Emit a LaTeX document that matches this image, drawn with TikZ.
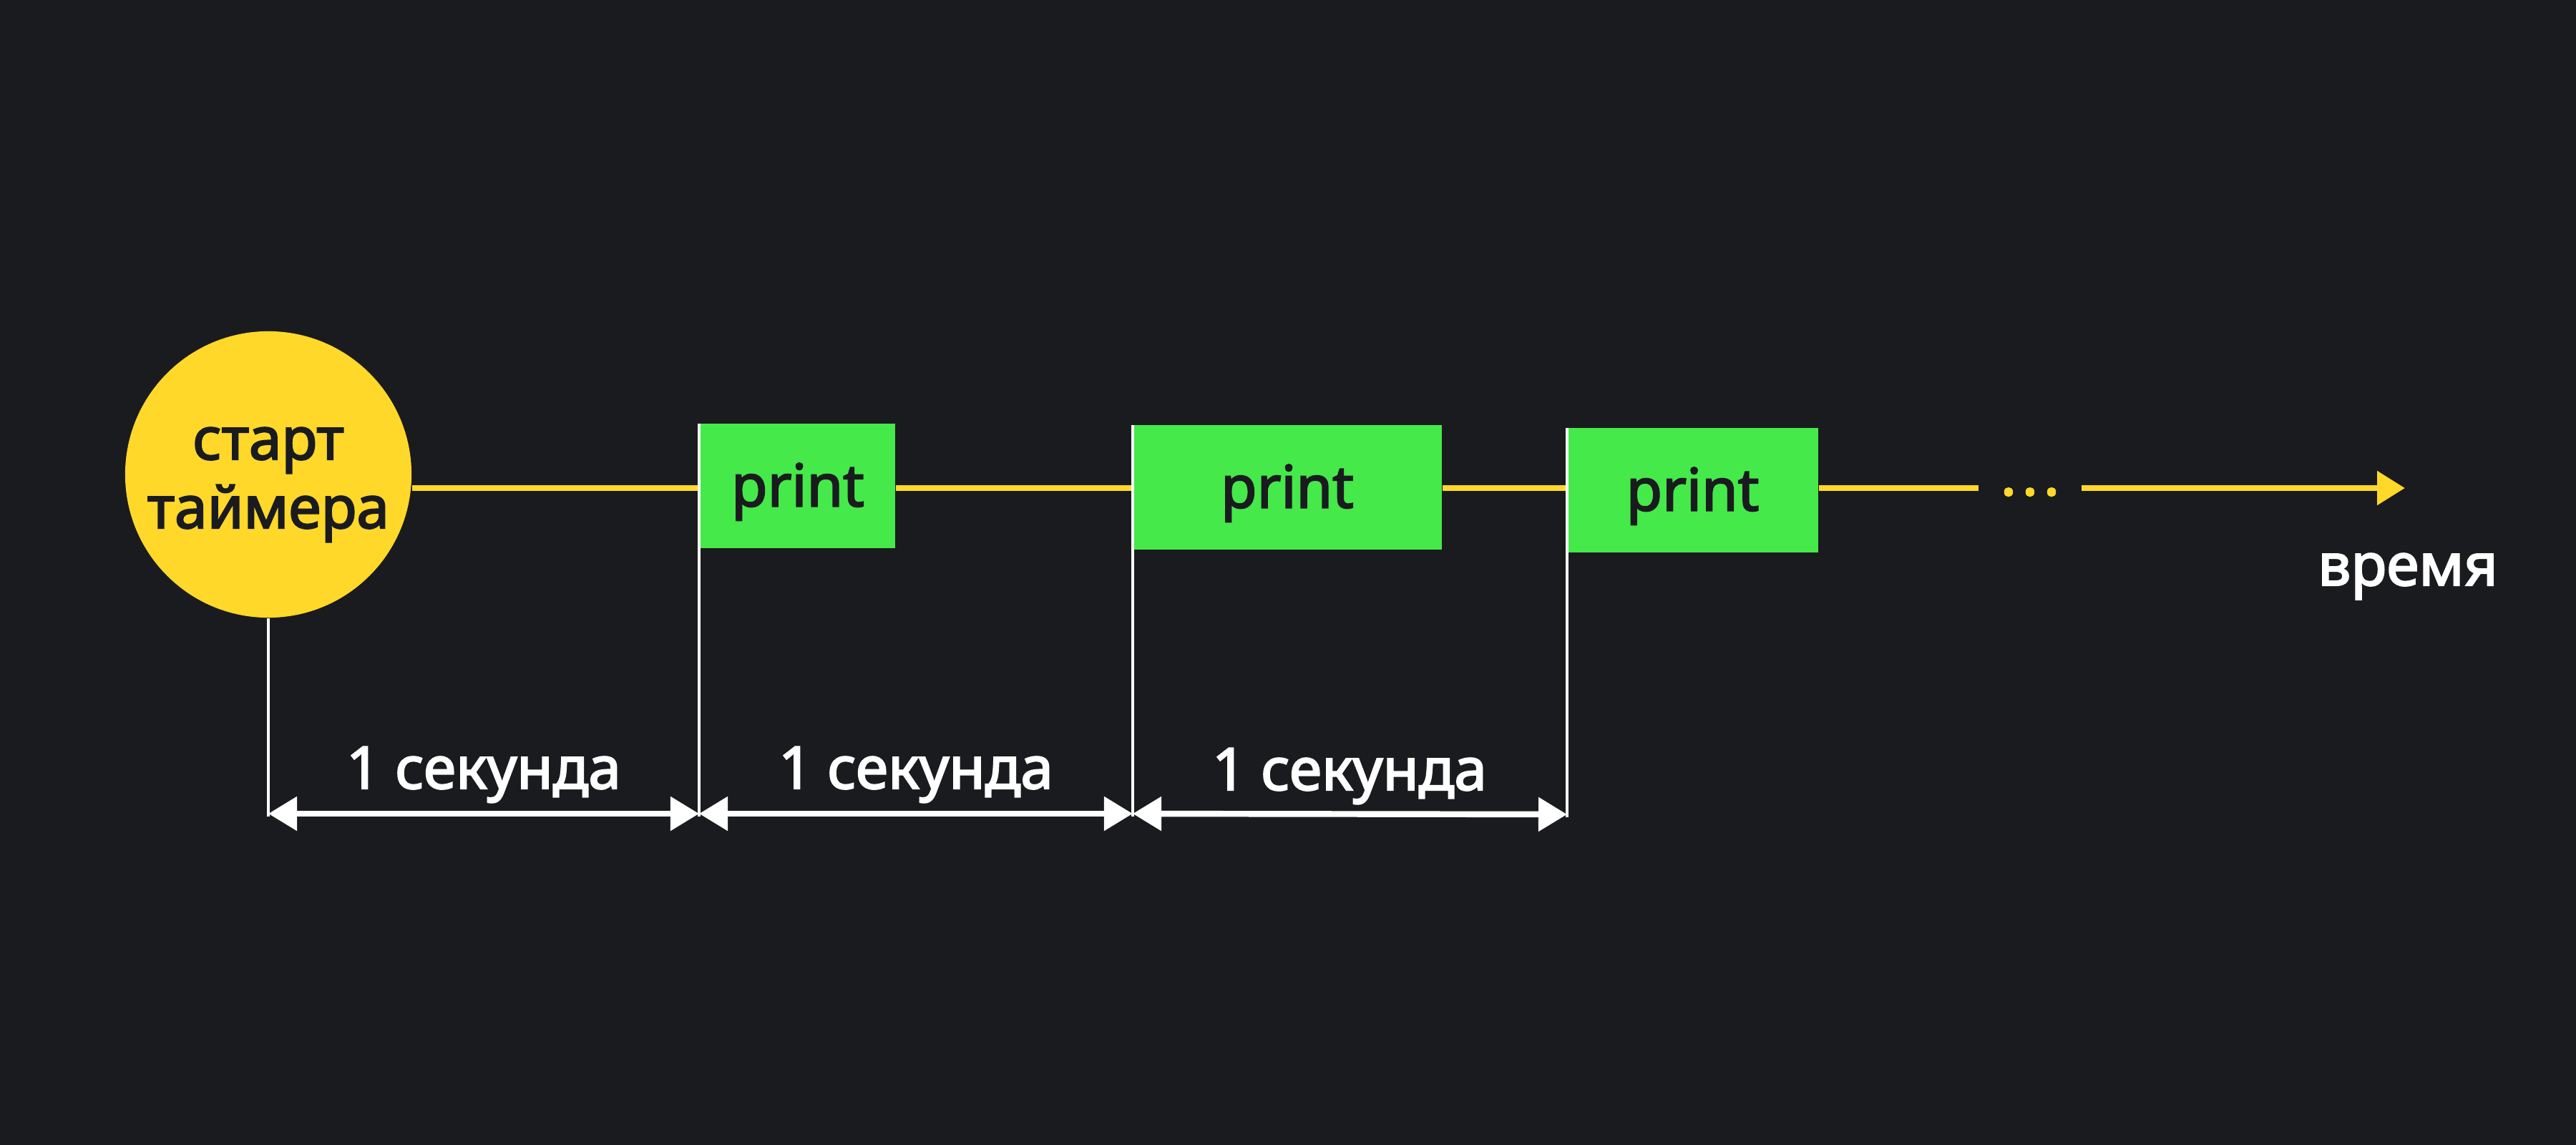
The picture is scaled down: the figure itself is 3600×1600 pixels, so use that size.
\documentclass[tikz,border=0pt]{standalone}
\usepackage{fontspec}
\setmainfont{Noto Sans}[FakeBold=2.6]
\usetikzlibrary{arrows.meta}
\definecolor{bg}{HTML}{1A1B1F}
\definecolor{ylw}{HTML}{FFD82A}
\definecolor{grn}{HTML}{45E94A}
\definecolor{dark}{HTML}{1A1B1F}
\newcommand{\bigfont}{\fontsize{23.3}{27.3}\selectfont}
\begin{document}
\begin{tikzpicture}[x=0.01cm,y=-0.01cm,
  timeline/.style={draw=ylw, line width=2.4pt},
  tick/.style={draw=white, line width=0.9pt},
  span/.style={draw=white, line width=2.4pt,
    {Triangle[length=0.4cm,width=0.46cm]}-{Triangle[length=0.4cm,width=0.46cm]}},
  printbox/.style={fill=grn, text=dark, minimum height=1.74cm, inner sep=0pt,
    text height=0.62cm, text depth=0.05cm, font=\bigfont},
  lbl/.style={text=white, font=\bigfont, anchor=base, inner sep=0pt}]
\fill[bg] (0,0) rectangle (3600,1600);
\useasboundingbox (0,0) rectangle (3600,1600);
\coordinate (tl) at (0,682);
% nodes
\node[circle, fill=ylw, minimum size=4cm, inner sep=0pt] (start) at (375,663) {};
\node[text=dark, font=\bigfont, anchor=base, inner sep=0pt] (st1) at (375,642) {старт};
\node[text=dark, font=\bigfont, anchor=base, inner sep=0pt] (st2) at (375,738) {таймера};
\node[printbox, minimum width=2.72cm] (p1) at (1115,679) {print};
\node[printbox, minimum width=4.32cm] (p2) at (1799,681) {print};
\node[printbox, minimum width=3.51cm] (p3) at (2365.5,685) {print};
\node[text=ylw, font=\bigfont, anchor=base, inner xsep=0.3cm, inner ysep=0pt] (dots) at (2837,692) {.\kern2.3pt.\kern2.3pt.};
\coordinate (tend) at (3361,682);
\node[lbl] (time) at (3365,818) {время};
% timeline
\draw[timeline] (start.east |- tl) -- (p1.west |- tl);
\draw[timeline] (p1.east |- tl) -- (p2.west |- tl);
\draw[timeline] (p2.east |- tl) -- (p3.west |- tl);
\draw[timeline] (p3.east |- tl) -- (dots.west |- tl);
\draw[timeline, -{Triangle[length=0.39cm,width=0.46cm]}] (dots.east |- tl) -- (tend);
% ticks
\coordinate (t0) at (375,1141);
\coordinate (t1) at (977,1141);
\coordinate (t2) at (1583,1141);
\coordinate (t3) at (2190,1142);
\draw[tick] (start.south) -- (t0);
\draw[tick] (977,592) coordinate (k1) -- (t1);
\draw[tick] (1583,594) coordinate (k2) -- (t2);
\draw[tick] (2190,598) coordinate (k3) -- (t3);
% spans
\coordinate (s0) at (375,1137);
\coordinate (s1) at (977,1137);
\coordinate (s2) at (1583,1137);
\coordinate (s3) at (2190,1138);
\draw[span] (s0) -- (s1);
\draw[span] (s1) -- (s2);
\draw[span] (s2) -- (s3);
\node[lbl] (l1) at (676,1102) {1 секунда};
\node[lbl] (l2) at (1280,1102) {1 секунда};
\node[lbl] (l3) at (1886,1104) {1 секунда};
\end{tikzpicture}
\end{document}
